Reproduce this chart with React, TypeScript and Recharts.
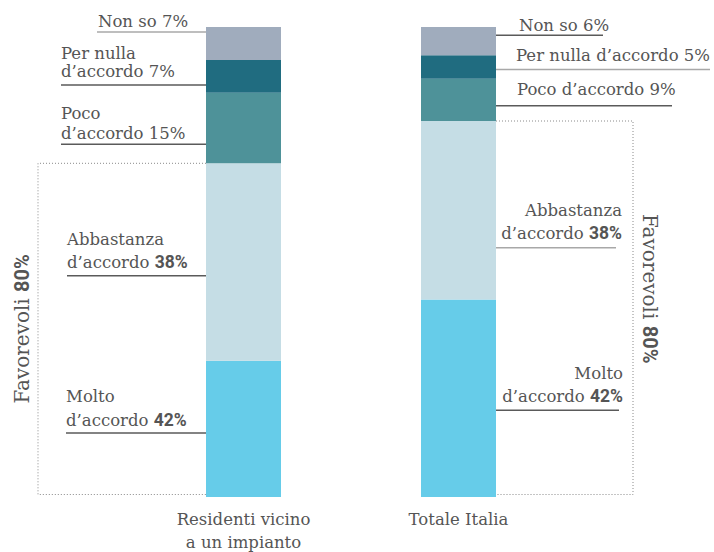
import React from 'react';
import { BarChart, Bar, XAxis, YAxis, LabelList } from 'recharts';

// categories and values (bar heights as drawn, labels as printed)
const categories = ['Residenti vicino|a un impianto', 'Totale Italia'];
const molto = [29, 42];
const abbastanza = [42, 38];
const poco = [15, 9];
const perNulla = [7, 5];
const nonSo = [7, 6];

const moltoLabel = [42, 42];
const abbastanzaLabel = [38, 38];
const pocoLabel = [15, 9];
const perNullaLabel = [7, 5];
const nonSoLabel = [7, 6];
const favorevoli = [80, 80];

const data = categories.map((name, i) => ({
  name,
  molto: molto[i],
  abbastanza: abbastanza[i],
  poco: poco[i],
  perNulla: perNulla[i],
  nonSo: nonSo[i],
}));

const SERIF = "'DejaVu Serif', serif";
const SANS = 'Roboto, sans-serif';
const TEXT = '#555555';
const DARK_LINE = '#5a5a5a';
const LIGHT_LINE = '#a8a8a8';
const FONT_SIZE = 16.5;

type Spec = {
  lines: string[];
  frac: number; // underline position inside the segment
  gap: number; // underline -> last baseline
  lh: number; // line height
  textX: number;
  lineX: number;
  anchor: 'start' | 'end';
  lineColor: string;
  bold?: boolean;
};

const layout: Record<string, Spec[]> = {
  nonSo: [
    { lines: ['Non so'], frac: 0.15, gap: 5, lh: 20, textX: 98, lineX: 97, anchor: 'start', lineColor: LIGHT_LINE },
    { lines: ['Non so'], frac: 0.29, gap: 4, lh: 20, textX: 519, lineX: 603, anchor: 'start', lineColor: DARK_LINE },
  ],
  perNulla: [
    { lines: ['Per nulla', 'd’accordo'], frac: 0.76, gap: 8, lh: 18, textX: 61, lineX: 61, anchor: 'start', lineColor: DARK_LINE },
    { lines: ['Per nulla d’accordo'], frac: 0.61, gap: 9, lh: 20, textX: 516, lineX: 710, anchor: 'start', lineColor: LIGHT_LINE },
  ],
  poco: [
    { lines: ['Poco', 'd’accordo'], frac: 0.73, gap: 5, lh: 20, textX: 61, lineX: 61, anchor: 'start', lineColor: DARK_LINE },
    { lines: ['Poco d’accordo'], frac: 0.64, gap: 11, lh: 20, textX: 517, lineX: 672, anchor: 'start', lineColor: DARK_LINE },
  ],
  abbastanza: [
    { lines: ['Abbastanza', 'd’accordo'], frac: 0.57, gap: 8, lh: 23, textX: 67, lineX: 67, anchor: 'start', lineColor: DARK_LINE, bold: true },
    { lines: ['Abbastanza', 'd’accordo'], frac: 0.71, gap: 9, lh: 23, textX: 622, lineX: 616, anchor: 'end', lineColor: LIGHT_LINE, bold: true },
  ],
  molto: [
    { lines: ['Molto', 'd’accordo'], frac: 0.53, gap: 7, lh: 24, textX: 66, lineX: 66, anchor: 'start', lineColor: DARK_LINE, bold: true },
    { lines: ['Molto', 'd’accordo'], frac: 0.56, gap: 8, lh: 23, textX: 623, lineX: 619, anchor: 'end', lineColor: DARK_LINE, bold: true },
  ],
};

const pctLabels: Record<string, number[]> = {
  molto: moltoLabel,
  abbastanza: abbastanzaLabel,
  poco: pocoLabel,
  perNulla: perNullaLabel,
  nonSo: nonSoLabel,
};

const makeLabel = (key: string) => (props: any) => {
  const vb = props.viewBox && props.viewBox.width != null ? props.viewBox : props;
  const { x, y, width, height } = vb;
  const i = props.index;
  const spec = layout[key][i];
  const pct = pctLabels[key][i];
  const lineY = y + height * spec.frac;
  const lastBase = lineY - spec.gap;
  const n = spec.lines.length;
  const barEdge = i === 0 ? x : x + width;

  const extra: React.ReactNode[] = [];
  if (key === 'molto') {
    // bracket around the "favorevoli" share (molto + abbastanza)
    const unit = height / molto[i];
    const top = y - abbastanza[i] * unit;
    const bottom = y + height - 2.5;
    const bx = i === 0 ? x - 168 : x + width + 137;
    extra.push(
      <path
        key="br"
        d={`M${barEdge},${top}H${bx}V${bottom}H${barEdge}`}
        fill="none"
        stroke="#8a8a8a"
        strokeWidth={1}
        strokeDasharray="1 2"
      />
    );
    const cy = i === 0 ? (top + bottom) / 2 : (top + bottom) / 2 - 19;
    const tx = i === 0 ? bx - 9 : bx + 10;
    extra.push(
      <text
        key="fav"
        transform={`translate(${tx},${cy}) rotate(${i === 0 ? -90 : 90})`}
        textAnchor="middle"
        fontFamily={SERIF}
        fontSize={20}
        fill={TEXT}
      >
        <tspan>Favorevoli </tspan>
        <tspan fontFamily={SANS} fontWeight={700}>{favorevoli[i]}%</tspan>
      </text>
    );
  }

  return (
    <g>
      {extra}
      <line x1={spec.lineX} x2={barEdge} y1={lineY} y2={lineY} stroke={spec.lineColor} strokeWidth={1.5} />
      <text x={spec.textX} textAnchor={spec.anchor} fontFamily={SERIF} fontSize={FONT_SIZE} fill={TEXT}>
        {spec.lines.map((l, k) => {
          const baseline = lastBase - (n - 1 - k) * spec.lh;
          if (k < n - 1) {
            return (
              <tspan key={k} x={spec.textX} y={baseline}>
                {l}
              </tspan>
            );
          }
          return (
            <tspan key={k} x={spec.textX} y={baseline}>
              {l + ' '}
              {spec.bold ? (
                <tspan fontFamily={SANS} fontWeight={700} fontSize={17.5}>{pct}%</tspan>
              ) : (
                <tspan>{pct}%</tspan>
              )}
            </tspan>
          );
        })}
      </text>
    </g>
  );
};

const CategoryTick = (props: any) => {
  const { x, y, payload } = props;
  const parts = String(payload.value).split('|');
  return (
    <text x={x} y={y} textAnchor="middle" fontFamily={SERIF} fontSize={FONT_SIZE} fill={TEXT}>
      {parts.map((p, k) => (
        <tspan key={k} x={x} dy={k === 0 ? 20 : 23}>
          {p}
        </tspan>
      ))}
    </text>
  );
};

const series = [
  { key: 'molto', color: '#66CCE9' },
  { key: 'abbastanza', color: '#C5DDE5' },
  { key: 'poco', color: '#4E9299' },
  { key: 'perNulla', color: '#206C80' },
  { key: 'nonSo', color: '#A0ACBD' },
];

export default function App() {
  return (
    <div style={{ position: 'absolute', left: 0, top: 0, width: 714, height: 552, background: '#fff' }}>
      <BarChart width={714} height={552} data={data} margin={{ top: 27, right: 148, bottom: 25, left: 136 }} barSize={75}>
        <XAxis dataKey="name" height={30} axisLine={false} tickLine={false} tick={<CategoryTick />} interval={0} />
        <YAxis hide domain={[0, 100]} />
        {series.map((s) => (
          <Bar key={s.key} dataKey={s.key} stackId="a" fill={s.color} isAnimationActive={false}>
            <LabelList dataKey={s.key} content={makeLabel(s.key)} />
          </Bar>
        ))}
      </BarChart>
    </div>
  );
}
